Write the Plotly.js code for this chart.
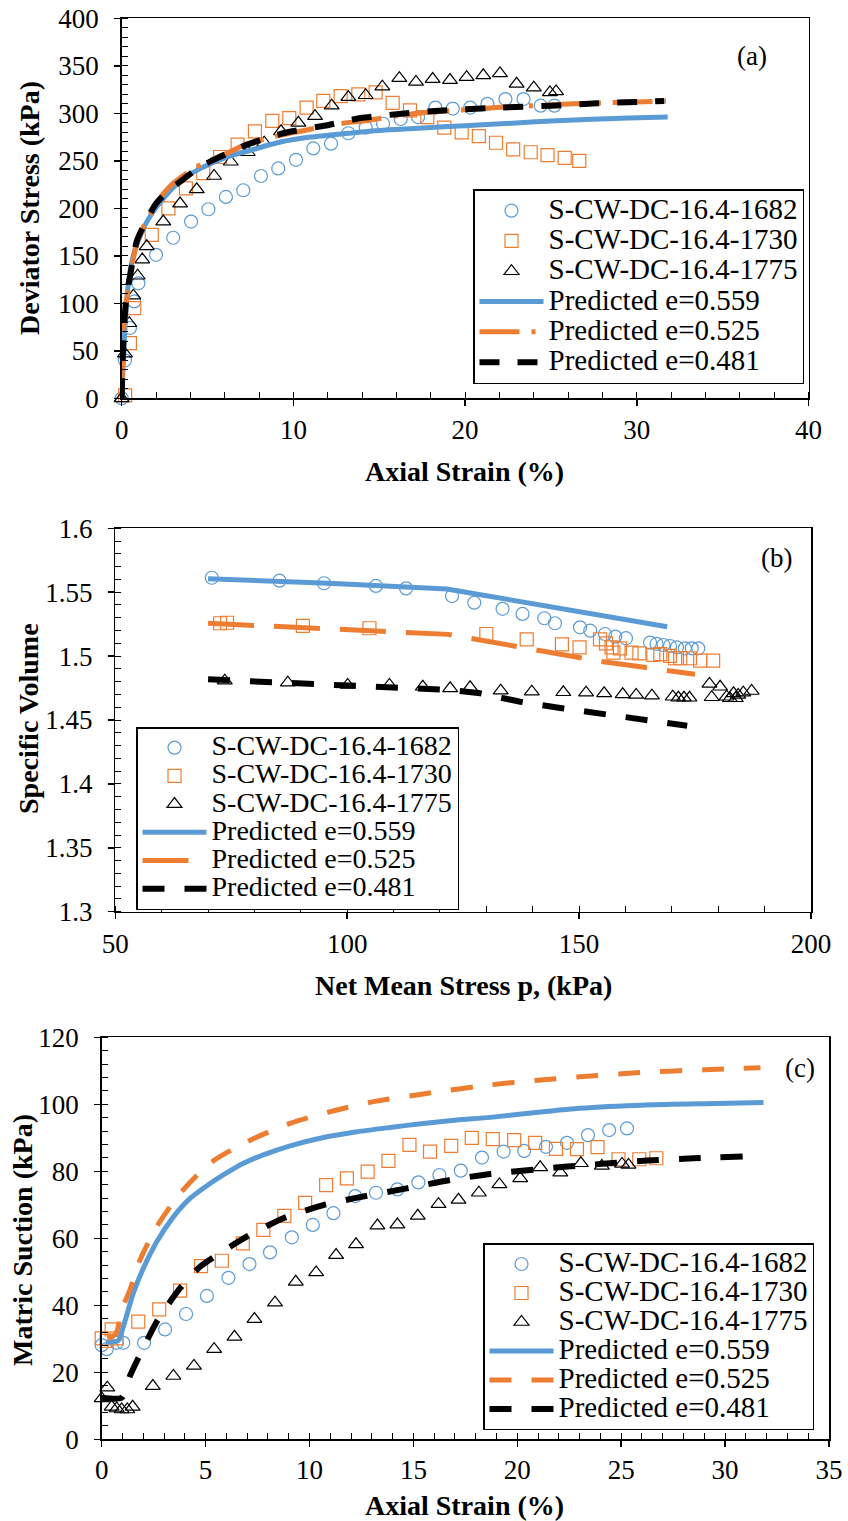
<!DOCTYPE html>
<html><head><meta charset="utf-8">
<script src="https://cdn.plot.ly/plotly-3.0.1.min.js"></script>
<style>html,body{margin:0;padding:0;background:#fff}#chart{width:848px;height:1521px}</style>
</head><body><div id="chart"></div>
<script>
// ---------------- DATA ----------------
const seriesNames = ['S-CW-DC-16.4-1682','S-CW-DC-16.4-1730','S-CW-DC-16.4-1775','Predicted e=0.559','Predicted e=0.525','Predicted e=0.481'];

// Panel (a): deviator stress vs axial strain
const a_x_1682 = [0,0.19,0.48,0.73,0.97,2.0,3.0,4.04,5.05,6.07,7.08,8.11,9.12,10.15,11.16,12.19,13.2,14.21,15.22,16.25,17.26,18.27,19.28,20.3,21.3,22.35,23.4,24.4,25.2];
const a_y_1682 = [0,40,74,102,121,151,169,186,199,212,219,234,242,251,263,268,279,285,289,294,296,306,305,306,310,315,315,308,308];
const a_x_1730 = [0.2,0.48,0.73,1.75,2.72,3.74,4.75,5.73,6.75,7.76,8.77,9.76,10.77,11.74,12.75,13.78,14.79,15.78,16.79,17.8,18.79,19.8,20.8,21.8,22.8,23.82,24.8,25.8,26.65];
const a_y_1730 = [3,58,95,172,200,221,237,254,267,281,292,295,306,313,318,320,322,311,303,296,285,280,276,269,262,259,256,253,250];
const a_x_1775 = [0,0.19,0.44,0.68,0.93,1.2,1.46,2.42,3.4,4.37,5.38,6.35,7.34,8.3,9.28,10.29,11.26,12.23,13.2,14.21,15.18,16.17,17.14,18.11,19.12,20.09,21.06,22.03,23.0,24.0,24.94,25.3];
const a_y_1775 = [0,47,79,108,129,146,160,186,205,220,234,249,259,269,281,290,297,308,317,319,328,337,333,336,335,338,340,342,331,327,322,323];
const a_x_p559 = [0,0.15,0.3,0.5,0.8,1.2,1.6,2.5,3.5,4.6,6,7.3,9.3,11,13.2,15,17,19,21,23.2,25,27,29.5,31.8];
const a_y_p559 = [0,60,105,135,158,176,190,212,230,242,253,260,270,275,279,282,284,286,288,290,292,293.5,295,296];
const a_x_p525 = [0,0.05,0.1,0.2,0.38,0.6,0.87,1.2,1.65,2.2,2.8,3.8,4.8,5.9,7.2,9,10.9,12.7,14.5,16.2,17.8,19.3,21,22.7,24.5,26.3,28,30,31.7];
const a_y_p525 = [0,40,68,92,115,140,163,178,193,210,223,237,248,256,267,276,283,289,293,298,301,303,305,307,308.5,310,311,312,313];
const a_x_p481 = [0,0.03,0.1,0.19,0.3,0.48,0.87,1.26,2,2.7,3.4,4.5,5.7,7.3,9.4,12.1,13.9,16,18.7,22,25,27.7,30,31.6];
const a_y_p481 = [0,25,61,90,110,128,165,181,205,218,228,243,254,267,279,288,295,299,303,306,308,310.5,312,313];

// Panel (b): specific volume vs net mean stress
const b_x_1682 = [70.8,85.4,95.0,106.2,112.7,122.6,127.4,133.5,137.8,142.5,144.8,150.2,152.4,155.6,157.8,160.1,165.3,166.7,168.2,169.6,171.1,172.8,174.3,175.7];
const b_y_1682 = [1.5613,1.559,1.557,1.5549,1.553,1.547,1.5418,1.537,1.533,1.5296,1.5257,1.5225,1.5199,1.5173,1.5152,1.514,1.5105,1.5095,1.5087,1.5079,1.5069,1.5061,1.5061,1.5061];
const b_x_1730 = [72.6,74.1,90.45,104.8,130,138.7,146.3,150.1,154.5,155.8,157.0,157.4,158.8,161.3,163.0,166.0,167.5,169.6,170.7,171.8,173.9,176.1,178.9];
const b_y_1730 = [1.5257,1.5261,1.5236,1.5218,1.5173,1.5131,1.5092,1.5069,1.5131,1.51,1.5069,1.5027,1.5061,1.5027,1.5022,1.5009,1.5016,1.5001,1.4983,1.4983,1.4983,1.4964,1.4964];
const b_x_1775 = [73.6,87.2,100.1,109.1,116.3,122.2,126.5,133.1,139.8,146.6,151.5,155.4,159.4,162.3,165.7,170.2,171.4,172.6,173.8,178.1,178.6,180.4,181.8,182.5,183.3,183.8,184.3,185.4,187.2];
const b_y_1775 = [1.4808,1.4792,1.4774,1.4774,1.476,1.4748,1.4756,1.473,1.4722,1.4717,1.4714,1.4709,1.4701,1.4696,1.469,1.4682,1.4674,1.4674,1.4674,1.4782,1.4678,1.476,1.4682,1.467,1.4709,1.467,1.4696,1.4714,1.4727];
const b_x_p559 = [70,96,121.5,145,169];
const b_y_p559 = [1.5605,1.557,1.5525,1.538,1.523];
const b_x_p525 = [70,96,121.8,126.5,140.9,154.5,164.4,175];
const b_y_p525 = [1.5257,1.5215,1.517,1.514,1.5045,1.496,1.491,1.4858];
const b_x_p481 = [70,100,122,128.7,137.3,146.3,155.2,164.2,173.3];
const b_y_p481 = [1.4818,1.4765,1.4735,1.4709,1.4643,1.4592,1.4545,1.4495,1.4455];

// Panel (c): matric suction vs axial strain
const c_x_1682 = [0,0.24,0.72,1.04,2.04,3.05,4.06,5.06,6.1,7.11,8.1,9.15,10.16,11.15,12.2,13.2,14.23,15.24,16.25,17.28,18.3,19.34,20.33,21.38,22.39,23.4,24.42,25.28];
const c_y_1682 = [28.1,26.9,28.8,28.8,28.8,32.8,37.4,42.8,48.2,52.3,55.8,60.3,64.0,67.5,72.6,73.6,74.6,76.7,78.9,80.2,84.1,85.9,86.1,87.3,88.5,90.8,92.3,92.8];
const c_x_1730 = [0,0.24,0.48,0.72,1.76,2.77,3.77,4.78,5.78,6.79,7.78,8.79,9.79,10.8,11.8,12.8,13.8,14.81,15.8,16.82,17.81,18.82,19.85,20.86,21.86,22.87,23.86,24.87,25.87,26.69];
const c_y_1730 = [30.1,29.4,32.8,30.1,35.1,38.8,44.4,51.7,53.3,58.5,62.5,66.7,70.6,75.9,77.9,79.9,83.1,87.9,85.9,87.6,90.0,89.6,89.3,88.5,86.7,86.6,87.2,83.6,83.6,83.9];
const c_x_1775 = [0,0.27,0.48,0.72,0.96,1.23,1.49,2.46,3.45,4.44,5.41,6.39,7.35,8.34,9.34,10.32,11.28,12.24,13.27,14.23,15.21,16.21,17.17,18.15,19.14,20.14,21.1,22.07,23.06,24.07,25.04,25.35];
const c_y_1775 = [12.2,15.4,9.7,9.2,8.9,8.9,9.7,15.9,18.9,21.9,26.9,30.6,35.9,40.8,47.0,49.8,55.0,58.2,63.8,64.1,66.7,70.2,71.5,73.6,76.1,77.9,81.2,79.6,82.4,81.6,82.2,81.9];
const c_x_p559 = [0.2,0.8,1.04,1.52,2.0,2.65,3.45,4.25,5.06,5.85,6.82,7.78,9.07,10.67,12.28,13.88,15.48,17.09,18.7,21,23,26.2,29,31.85];
const c_y_p559 = [29,29.5,33.6,43.6,51.0,59.0,66.4,71.9,75.7,78.9,82.4,84.9,87.6,90.1,91.8,93.1,94.3,95.3,96.1,97.6,98.8,99.8,100.2,100.5];
const c_x_p525 = [0.3,0.69,0.96,1.36,1.84,2.65,3.77,5.21,6.98,9.07,11,13.08,15.48,18.7,21,23,26.2,29,31.7];
const c_y_p525 = [30,31.6,38.6,44.6,53.5,63.5,73.4,82.4,88.8,94.3,97.8,100.8,103.1,105.8,107.2,108.2,109.6,110.3,110.9];
const c_x_p481 = [0,0.96,1.2,1.36,1.76,2.65,3.77,4.73,6.18,6.98,8.74,10.67,12.11,14.68,16.77,18.7,22.4,26.24,28.5,30.9];
const c_y_p481 = [12.4,12.4,16,18.9,24.2,35.1,45.1,51.5,57.5,60.5,66,69.9,71.9,74.9,77.4,79.2,81.4,83.2,83.9,84.4];

// ---------------- STYLE / LAYOUT ----------------
const W = 848, H = 1521;
const FONT = 'Liberation Serif, Times New Roman, Times, serif';
const BLUE = '#5B9BD5', ORANGE = '#ED7D31', BLACK = '#000000';
const fx = px => px / W;
const fy = py => 1 - py / H;
const legName = (n, fs) => '<span style="font-size:' + fs + 'px">' + n + '</span>';

function markerTrace(x, y, name, symbol, color, xa, ya, leg, fs) {
  return {x, y, name: legName(name, fs), mode: 'markers', type: 'scatter', xaxis: xa, yaxis: ya, legend: leg,
    cliponaxis: false, hoverinfo: 'skip',
    marker: {symbol, size: 13, color, line: {color, width: 1.2}}};
}
function lineTrace(x, y, name, color, width, dash, xa, ya, leg, fs, shape) {
  return {x, y, name: legName(name, fs), mode: 'lines', type: 'scatter', xaxis: xa, yaxis: ya, legend: leg,
    cliponaxis: false, hoverinfo: 'skip',
    line: {color, width, dash, shape: shape || 'spline', smoothing: 0.7}};
}

const traces = [
  markerTrace(a_x_1682, a_y_1682, seriesNames[0], 'circle-open', BLUE, 'x', 'y', 'legend', 29),
  markerTrace(a_x_1730, a_y_1730, seriesNames[1], 'square-open', ORANGE, 'x', 'y', 'legend', 29),
  markerTrace(a_x_1775, a_y_1775, seriesNames[2], 'triangle-up-open', BLACK, 'x', 'y', 'legend', 29),
  lineTrace(a_x_p559, a_y_p559, seriesNames[3], BLUE, 5, 'solid', 'x', 'y', 'legend', 29),
  lineTrace(a_x_p525, a_y_p525, seriesNames[4], ORANGE, 5, '40px,12px,4px,12px', 'x', 'y', 'legend', 29),
  lineTrace(a_x_p481, a_y_p481, seriesNames[5], BLACK, 6, '20px,18px', 'x', 'y', 'legend', 29),

  markerTrace(b_x_1682, b_y_1682, seriesNames[0], 'circle-open', BLUE, 'x2', 'y2', 'legend2', 28),
  markerTrace(b_x_1730, b_y_1730, seriesNames[1], 'square-open', ORANGE, 'x2', 'y2', 'legend2', 28),
  markerTrace(b_x_1775, b_y_1775, seriesNames[2], 'triangle-up-open', BLACK, 'x2', 'y2', 'legend2', 28),
  lineTrace(b_x_p559, b_y_p559, seriesNames[3], BLUE, 5, 'solid', 'x2', 'y2', 'legend2', 28, 'linear'),
  lineTrace(b_x_p525, b_y_p525, seriesNames[4], ORANGE, 5, '46px,20px', 'x2', 'y2', 'legend2', 28, 'linear'),
  lineTrace(b_x_p481, b_y_p481, seriesNames[5], BLACK, 6, '22px,20px', 'x2', 'y2', 'legend2', 28, 'linear'),

  markerTrace(c_x_1682, c_y_1682, seriesNames[0], 'circle-open', BLUE, 'x3', 'y3', 'legend3', 29),
  markerTrace(c_x_1730, c_y_1730, seriesNames[1], 'square-open', ORANGE, 'x3', 'y3', 'legend3', 29),
  markerTrace(c_x_1775, c_y_1775, seriesNames[2], 'triangle-up-open', BLACK, 'x3', 'y3', 'legend3', 29),
  lineTrace(c_x_p559, c_y_p559, seriesNames[3], BLUE, 5, 'solid', 'x3', 'y3', 'legend3', 29),
  lineTrace(c_x_p525, c_y_p525, seriesNames[4], ORANGE, 5, '22px,20px', 'x3', 'y3', 'legend3', 29),
  lineTrace(c_x_p481, c_y_p481, seriesNames[5], BLACK, 6, '22px,20px', 'x3', 'y3', 'legend3', 29)
];

function ax(domain, range, dtick, minorDtick, anchor, standoff) {
  return {domain, range, dtick, tick0: range[0], anchor, autorange: false,
    ticks: 'outside', ticklen: 6, tickwidth: 1.5, tickcolor: '#000',
    showline: true, linecolor: '#000', linewidth: 1.5, mirror: true,
    showgrid: false, zeroline: false, ticklabelstandoff: standoff,
    tickfont: {family: FONT, size: 27, color: '#000'},
    minor: {dtick: minorDtick, tick0: range[0], ticks: 'inside', ticklen: 6, tickwidth: 1, tickcolor: '#000', showgrid: false}};
}
function legend(px, py, fs) {
  return {x: fx(px), y: fy(py), xanchor: 'left', yanchor: 'top', bgcolor: '#fff',
    bordercolor: '#000', borderwidth: 1.5, itemwidth: 64, tracegroupgap: 0,
    font: {family: FONT, size: fs, color: '#000'}};
}
function ann(px, py, text, size, angle) {
  return {xref: 'paper', yref: 'paper', x: fx(px), y: fy(py), text, showarrow: false,
    xanchor: 'center', yanchor: 'middle', textangle: angle || 0,
    font: {family: FONT, size, color: '#000'}};
}

const layout = {
  width: W, height: H, margin: {l: 0, r: 0, t: 0, b: 0},
  paper_bgcolor: '#fff', plot_bgcolor: '#fff', showlegend: true,
  font: {family: FONT, color: '#000'},
  xaxis:  ax([fx(121.7), fx(808.5)], [0, 40], 10, 2, 'y', 1),
  yaxis:  ax([fy(398.3), fy(18.3)], [0, 400], 50, 10, 'x', 10),
  xaxis2: ax([fx(115.3), fx(811)], [50, 200], 50, 10, 'y2', 1),
  yaxis2: ax([fy(911.7), fy(528.3)], [1.3, 1.6], 0.05, 0.01, 'x2', 10),
  xaxis3: ax([fx(101.7), fx(829)], [0, 35], 5, 1, 'y3', 0),
  yaxis3: ax([fy(1439.3), fy(1037.3)], [0, 120], 20, 4, 'x3', 10),
  legend:  legend(473, 189, 21),
  legend2: legend(136, 727, 19.4),
  legend3: legend(483, 1243, 20),
  annotations: [
    ann(465, 471, '<b>Axial Strain (%)</b>', 28),
    ann(30, 208, '<b>Deviator Stress (kPa)</b>', 28, -90),
    ann(752, 56, '(a)', 27),
    ann(463, 985, '<b>Net Mean Stress p, (kPa)</b>', 28),
    ann(28, 719, '<b>Specific Volume</b>', 28, -90),
    ann(776, 558, '(b)', 27),
    ann(465, 1505, '<b>Axial Strain (%)</b>', 28),
    ann(22, 1240, '<b>Matric Suction (kPa)</b>', 28, -90),
    ann(800, 1068, '(c)', 27)
  ]
};

Plotly.newPlot('chart', traces, layout, {displayModeBar: false, staticPlot: true});
</script></body></html>
